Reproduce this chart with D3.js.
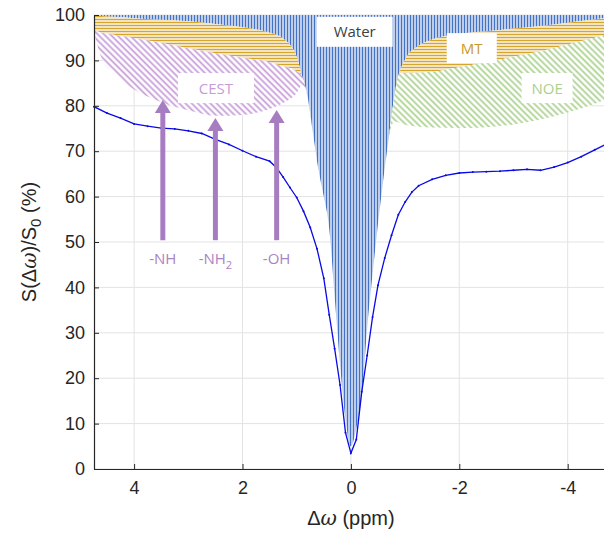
<!DOCTYPE html>
<html>
<head>
<meta charset="utf-8">
<script src="https://cdn.jsdelivr.net/npm/d3@7"></script>
<style>
  body { margin: 0; background: #fff; }
  svg { display: block; }
</style>
</head>
<body>
<div class="chart"></div>
<script>
// Z-spectrum with the saturation pools sketched above it

// measured Z-spectrum (offset in ppm, signal in %)
var specPpm = [4.74, 4.5, 4.25, 4.0, 3.75, 3.5, 3.25, 3.0, 2.75, 2.5, 2.25, 2.0, 1.75, 1.5, 1.375, 1.25,
  1.125, 1.0, 0.875, 0.75, 0.625, 0.5, 0.4, 0.3, 0.2, 0.1, 0.0, -0.1, -0.2, -0.3, -0.4, -0.5, -0.625,
  -0.75, -0.875, -1.0, -1.125, -1.25, -1.5, -1.75, -2.0, -2.25, -2.5, -2.75, -3.0, -3.25, -3.5, -3.75,
  -4.0, -4.25, -4.5, -4.7];
var specVal = [79.8, 78.4, 77.3, 76.0, 75.5, 75.1, 74.9, 74.5, 73.9, 72.6, 71.5, 70.1, 68.8, 67.8, 66.4, 64.3,
  62.0, 59.8, 56.8, 53.2, 48.5, 42.0, 34.0, 26.5, 18.5, 8.0, 3.5, 6.5, 17.0, 25.0, 33.5, 40.5, 46.5,
  51.5, 56.0, 58.8, 61.0, 62.4, 63.8, 64.7, 65.2, 65.4, 65.5, 65.6, 65.8, 66.0, 65.8, 66.5,
  67.5, 68.8, 70.3, 71.5];

// lower edge of each pool region (%), on one offset grid
var gridPpm = [4.75, 4.6, 4.4, 4.2, 4.0, 3.6, 3.0, 2.5, 2.0, 1.5, 1.25, 1.0, 0.9, 0.8, 0.7, 0.6, 0.5, 0.4,
  0.3, 0.2, 0.1, 0, -0.1, -0.2, -0.3, -0.4, -0.5, -0.6, -0.7, -0.8, -0.9, -1.0, -1.25, -1.5, -2.0, -2.5,
  -3.0, -3.5, -4.0, -4.4, -4.75];
var waterEdge = [100, 99.8, 99.6, 99.5, 99.3, 99.0, 98.6, 98.0, 97.3, 96.1, 94.8, 90.8, 86.5, 82, 74, 66, 60, 53,
  38, 23, 11, 5, 9, 16, 31, 43, 54, 64, 73, 82, 87.4, 90.2, 93.2, 94.6, 95.8, 96.4,
  97.0, 97.6, 98.3, 98.9, 99.4];
var mtEdge = [96.6, 96.1, 95.7, 95.3, 94.9, 94.1, 92.7, 91.6, 90.6, 89.6, 88.7, 87.6, 87.3, 87.2, 87.2, 87.2, 87.2, 87.2,
  87.2, 87.2, 87.2, 87.2, 87.2, 87.2, 87.2, 87.2, 87.2, 87.2, 87.2, 87.2, 87.2, 87.2, 87.3, 87.5, 88.5, 89.6,
  90.8, 92.0, 93.5, 94.7, 95.9];
var cestEdge = [96.6, 90.5, 87.5, 85.2, 83.6, 81.3, 79.0, 77.8, 78.0, 79.3, 80.6, 82.8, 84.5, 86.5, 87.2, null, null, null,
  null, null, null, null, null, null, null, null, null, null, null, null, null, null, null, null, null, null,
  null, null, null, null, null];
var noeEdge = [null, null, null, null, null, null, null, null, null, null, null, null, null, null, null, null, null, null,
  null, null, null, null, null, null, null, null, null, null, 76.5, 76.6, 76.2, 75.8, 75.4, 75.2, 75.1, 75.3,
  75.9, 77.0, 78.5, 80.0, 81.6];

// region labels
var labelNames = ["Water", "MT", "CEST", "NOE"];
var labelPpm = [-0.07, -2.23, 2.49, -3.62];
var labelVal = [96.3, 92.7, 83.9, 83.9];

// exchangeable groups
var arrowNames = ["-NH", "-NH", "-OH"];
var arrowSub = ["", "2", ""];
var arrowPpm = [3.47, 2.5, 1.37];
var arrowTop = [81.3, 77.3, 79.1];
var arrowBase = 50.4;

var xTicks = [4, 2, 0, -2, -4];
var yTicks = [0, 10, 20, 30, 40, 50, 60, 70, 80, 90, 100];

var svgWidth = 604;
var svgHeight = 533;
var margin = { top: 15, right: 0, bottom: 64, left: 94 };
var width = svgWidth - margin.left - margin.right;
var height = svgHeight - margin.top - margin.bottom;

var colors = {
  water: "#4472c4", mt: "#d6a52b", cest: "#c69bd8", noe: "#a9d18e",
  arrow: "#a77dc2", curve: "#0a0ae6", axis: "#262626", grid: "#e3e3e3"
};

var svg = d3.select(".chart")
  .append("svg")
  .attr("width", svgWidth)
  .attr("height", svgHeight);

var xScale = d3.scaleLinear().domain([4.74, -4.67]).range([0, width]);
var yScale = d3.scaleLinear().domain([0, 100]).range([height, 0]);

// hatch patterns
var defs = svg.append("defs");
function hatch(id, color, size, lineW, angle) {
  var p = defs.append("pattern")
    .attr("id", id)
    .attr("patternUnits", "userSpaceOnUse")
    .attr("width", size)
    .attr("height", size)
    .attr("patternTransform", "rotate(" + angle + ")");
  p.append("rect").attr("width", size).attr("height", size).attr("fill", "#fff");
  p.append("line")
    .attr("x1", size / 2).attr("x2", size / 2)
    .attr("y1", 0).attr("y2", size)
    .attr("stroke", color)
    .attr("stroke-width", lineW);
}
hatch("pWater", colors.water, 3, 1.7, 0);
hatch("pMT", colors.mt, 3, 1.6, 90);
hatch("pCEST", colors.cest, 4.4, 1.7, -45);
hatch("pNOE", colors.noe, 4.4, 1.7, -45);

defs.append("clipPath").attr("id", "plotClip")
  .append("rect").attr("width", width).attr("height", height);

var chartGroup = svg.append("g")
  .attr("transform", `translate(${margin.left}, ${margin.top})`);

// grid
chartGroup.append("g").selectAll("line")
  .data(xTicks).enter().append("line")
  .attr("x1", d => xScale(d)).attr("x2", d => xScale(d))
  .attr("y1", 0).attr("y2", height)
  .attr("stroke", colors.grid);
chartGroup.append("g").selectAll("line")
  .data(yTicks).enter().append("line")
  .attr("x1", 0).attr("x2", width)
  .attr("y1", d => yScale(d)).attr("y2", d => yScale(d))
  .attr("stroke", colors.grid);

// pool regions
var rows = gridPpm.map(function(p, i) {
  var w = waterEdge[i];
  var wm = Math.min(w, mtEdge[i]);
  return {
    ppm: p, water: w, wm: wm,
    cest: cestEdge[i] == null ? null : Math.min(wm, cestEdge[i]),
    noe: noeEdge[i] == null ? null : Math.min(wm, noeEdge[i])
  };
});

var regions = chartGroup.append("g").attr("clip-path", "url(#plotClip)");
function drawRegion(fill, top, bottom, defined) {
  var area = d3.area()
    .x(d => xScale(d.ppm))
    .y0(d => yScale(bottom(d)))
    .y1(d => yScale(top(d)))
    .curve(d3.curveMonotoneX);
  if (defined) area.defined(defined);
  regions.append("path")
    .datum(rows)
    .attr("d", area)
    .attr("fill", fill);
}
drawRegion("url(#pWater)", d => 100, d => d.water);
drawRegion("url(#pMT)", d => d.water, d => d.wm);
drawRegion("url(#pCEST)", d => d.wm, d => d.cest, d => d.cest != null);
drawRegion("url(#pNOE)", d => d.wm, d => d.noe, d => d.noe != null);

// spectrum
var spec = specPpm.map((p, i) => ({ ppm: p, val: specVal[i] }));
var line = d3.line()
  .x(d => xScale(d.ppm))
  .y(d => yScale(d.val));
chartGroup.append("path")
  .datum(spec)
  .attr("d", line)
  .attr("fill", "none")
  .attr("stroke", colors.curve)
  .attr("stroke-width", 1.3)
  .attr("clip-path", "url(#plotClip)");
chartGroup.append("g").selectAll("circle")
  .data(spec).enter().append("circle")
  .attr("cx", d => xScale(d.ppm))
  .attr("cy", d => yScale(d.val))
  .attr("r", 1)
  .attr("fill", colors.curve);

// label boxes
var boxW = [76, 50, 76, 51];
var textColors = ["#404040", "#c99a2a", colors.cest, colors.noe];
labelNames.forEach(function(name, i) {
  var cx = xScale(labelPpm[i]);
  var cy = yScale(labelVal[i]);
  chartGroup.append("rect")
    .attr("x", cx - boxW[i] / 2).attr("y", cy - 15)
    .attr("width", boxW[i]).attr("height", 30)
    .attr("fill", "#fff");
  chartGroup.append("text")
    .attr("x", cx).attr("y", cy + 5.5)
    .attr("text-anchor", "middle")
    .attr("font-family", "'Open Sans', sans-serif")
    .attr("font-size", "15px")
    .attr("fill", textColors[i])
    .text(name);
});

// arrows
arrowPpm.forEach(function(p, i) {
  var x = xScale(p);
  var tip = yScale(arrowTop[i]);
  var base = yScale(arrowBase);
  chartGroup.append("line")
    .attr("x1", x).attr("x2", x)
    .attr("y1", base).attr("y2", tip + 10)
    .attr("stroke", colors.arrow)
    .attr("stroke-width", 5);
  chartGroup.append("path")
    .attr("d", `M${x},${tip} L${x + 8},${tip + 13} L${x - 8},${tip + 13} Z`)
    .attr("fill", colors.arrow);
  var t = chartGroup.append("text")
    .attr("x", x).attr("y", base + 24)
    .attr("text-anchor", "middle")
    .attr("font-family", "'Open Sans', sans-serif")
    .attr("font-size", "15px")
    .attr("fill", "#a983c4");
  t.append("tspan").text(arrowNames[i]);
  if (arrowSub[i]) {
    t.append("tspan").attr("dy", 5).attr("font-size", "11px").text(arrowSub[i]);
  }
});

// axes
var bottomAxis = d3.axisBottom(xScale).tickValues(xTicks).tickSizeInner(-5).tickSizeOuter(0).tickPadding(12);
var leftAxis = d3.axisLeft(yScale).tickValues(yTicks).tickSizeInner(-5).tickSizeOuter(0).tickPadding(9);

var gx = chartGroup.append("g")
  .attr("transform", `translate(0, ${height})`)
  .call(bottomAxis);
var gy = chartGroup.append("g")
  .call(leftAxis);
[gx, gy].forEach(function(g) {
  g.select(".domain").attr("stroke", colors.axis).attr("stroke-width", 1.2);
  g.selectAll(".tick line").attr("stroke", colors.axis);
  g.selectAll(".tick text")
    .attr("fill", colors.axis)
    .attr("font-family", "'Liberation Sans', Arial, sans-serif")
    .attr("font-size", "18px");
});
gx.selectAll(".tick text").text(d => d < 0 ? "-" + Math.abs(d) : d);

// axis titles
var yTitle = svg.append("text")
  .attr("transform", `translate(36, ${margin.top + height / 2}) rotate(-90)`)
  .attr("text-anchor", "middle")
  .attr("font-family", "'Liberation Sans', Arial, sans-serif")
  .attr("font-size", "20px")
  .attr("fill", colors.axis);
yTitle.append("tspan").text("S(\u0394");
yTitle.append("tspan").attr("font-style", "italic").attr("font-family", "'DejaVu Serif', serif").text("\u03c9");
yTitle.append("tspan").text(")/S");
yTitle.append("tspan").attr("dy", 5).attr("font-size", "15px").text("0");
yTitle.append("tspan").attr("dy", -5).text(" (%)");

var xTitle = svg.append("text")
  .attr("x", margin.left + xScale(0))
  .attr("y", 525)
  .attr("text-anchor", "middle")
  .attr("font-family", "'Liberation Sans', Arial, sans-serif")
  .attr("font-size", "20px")
  .attr("fill", colors.axis);
xTitle.append("tspan").text("\u0394");
xTitle.append("tspan").attr("font-style", "italic").attr("font-family", "'DejaVu Serif', serif").text("\u03c9");
xTitle.append("tspan").text(" (ppm)");
</script>
</body>
</html>
